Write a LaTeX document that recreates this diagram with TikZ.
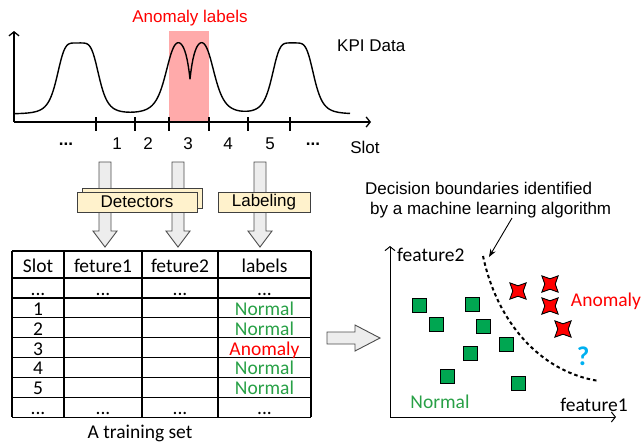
\documentclass[tikz,border=0pt]{standalone}
\usepackage{fontspec}
\setmainfont{Liberation Sans}
\newfontfamily\calibri{Carlito}
\usepackage{tikz}
\usetikzlibrary{arrows.meta,shapes.geometric}
\definecolor{pinkband}{RGB}{255,170,170}
\definecolor{creambox}{RGB}{255,242,204}
\definecolor{normalgreen}{RGB}{40,160,70}
\definecolor{squaregreen}{RGB}{0,166,81}
\definecolor{anomalyred}{RGB}{255,0,0}
\definecolor{qblue}{RGB}{0,176,240}
\newcommand\threedots{...}

\tikzset{
  txt/.style={font=\fontsize{17}{20}\selectfont, inner sep=0pt},
  cal/.style={font=\calibri\fontsize{19.5}{23}\selectfont, inner sep=0pt},
  cell/.style={cal, anchor=base},
  axisline/.style={line width=1.3pt, -{Straight Barb[length=4pt,width=10pt]}},
  garrow/.style={draw=black!70, fill=black!7, line width=0.9pt},
  toolbox/.style={draw=black!75, fill=creambox, line width=0.9pt},
  tabline/.style={line width=1.2pt},
  normsq/.style={draw, fill=squaregreen, line width=0.9pt, minimum size=14pt, inner sep=0pt},
  anomstar/.style={star, star points=4, star point ratio=2.2, shape border rotate=45,
    draw, fill=anomalyred, line width=0.9pt, minimum size=23pt, inner sep=0pt}
}

\begin{document}
\begin{tikzpicture}[x=1pt,y=-1pt,
  declare function={pk(\x,\c,\w)=1/(1+min(abs((\x-\c)/\w),6)^5);}]
\useasboundingbox (0,0) rectangle (644,445);

% KPI series
\fill[pinkband] (169,31) rectangle (209,122);
\draw[axisline] (14,122) -- (14,31);
\draw[axisline] (14,122) -- (371,122);
\foreach \t in {96,135,169,209,248,290}
  \draw[line width=1.2pt] (\t,117) -- (\t,131);
\draw[line width=1.4pt, line join=round]
  plot[domain=14:350, samples=337]
  (\x,{114-71*pk(\x,78,21.5)-76*pk(\x,190,25)+41*exp(-min(abs(\x-190)/4.5,20))-71*pk(\x,293,21.5)});
\node[txt, text=anomalyred] (anolab) at (190,18) {Anomaly labels};
\node[txt, anchor=west] (kpi) at (337,46) {KPI Data};
\node[txt] (tdots1) at (66,144) {\textbf{...}};
\node[txt] (t1) at (117,144) {1};
\node[txt] (t2) at (148,144) {2};
\node[txt] (t3) at (188,144) {3};
\node[txt] (t4) at (228,144) {4};
\node[txt] (t5) at (270,144) {5};
\node[txt] (tdots2) at (313,144) {\textbf{...}};
\node[txt] (slotax) at (365,147) {Slot};

% block arrows down
\foreach \c in {105,178,260}
  \draw[garrow] (\c-6,162) -- (\c+6,162) -- (\c+6,231) -- (\c+12,231) -- (\c,247)
    -- (\c-12,231) -- (\c-6,231) -- cycle;
\draw[toolbox] (82,188) rectangle (202,208);
\node[toolbox, txt, minimum width=120pt, minimum height=20pt] (detect) at (137,202) {Detectors};
\node[toolbox, txt, minimum width=92pt, minimum height=20pt] (labeling) at (264,202) {Labeling};

% training set table
\foreach \y in {251,278,297.9,317.75,337.6,357.5,377.4,397.25,417.1}
  \draw[tabline] (12,\y) -- (311,\y);
\foreach \x in {12,64,142,218,311}
  \draw[tabline] (\x,251) -- (\x,417.1);
\node[cell] (hslot) at (38,272) {Slot};
\node[cell] (hf1) at (103,272) {feture1};
\node[cell] (hf2) at (180,272) {feture2};
\node[cell] (hlab) at (264.5,272) {labels};
\foreach \sl/\lb/\cl [count=\i from 0] in {\threedots/\threedots/black,1/Normal/normalgreen,2/Normal/normalgreen,3/Anomaly/anomalyred,4/Normal/normalgreen,5/Normal/normalgreen,\threedots/\threedots/black}
{
  \pgfmathsetmacro\yb{278+19.875*(\i+1)-2.5}
  \node[cell] (slot\i) at (38,\yb) {\sl};
  \node[cell, text=\cl] (lab\i) at (264.5,\yb) {\lb};
}
\node[cell] (fa0) at (103,295.4) {\threedots};
\node[cell] (fb0) at (180,295.4) {\threedots};
\node[cell] (fa6) at (103,414.6) {\threedots};
\node[cell] (fb6) at (180,414.6) {\threedots};
\node[cal] (trainset) at (140,433) {A training set};

% arrow to the classifier
\draw[garrow] (327,332) -- (355,332) -- (355,325) -- (380,338) -- (355,351)
  -- (355,344) -- (327,344) -- cycle;

% feature space
\draw[axisline, line width=1pt] (390,417) -- (390,246);
\draw[axisline, line width=1pt] (390,417) -- (616,417);
\node[cal, anchor=west] (feat2) at (397,255) {feature2};
\node[cal] (feat1) at (594,405) {feature1};
\node[cal, text=normalgreen] (normtxt) at (440,402) {Normal};
\node[cal, text=anomalyred] (anomtxt) at (606,301) {Anomaly};
\node[inner sep=0pt, text=qblue, font=\calibri\bfseries\fontsize{27}{30}\selectfont] (qmark) at (583,356) {?};
\foreach \px/\py [count=\k] in {419/305,436/324,472/304,483/326,506/344,470/353,447/376,518/383}
  \node[normsq] (sq\k) at (\px,\py) {};
\foreach \px/\py [count=\k] in {518/291,550/284,550/306,563/329}
  \node[anomstar] (st\k) at (\px,\py) {};
\coordinate (bndtop) at (483,256);
\coordinate (bndend) at (599,381);
\draw[line width=2pt, dash pattern=on 3.5pt off 3pt] (bndtop) .. controls (497,322) and (540,372) .. (bndend);
\node[txt, align=left, anchor=north west] (dbtext) at (365,182)
  {Decision boundaries identified\\\hspace*{5pt}by a machine learning algorithm};
\coordinate (dbfrom) at (512,218);
\coordinate (dbto) at (489,257);
\draw[line width=0.9pt, -{Stealth[length=8pt,width=6pt]}] (dbfrom) -- (dbto);
\end{tikzpicture}
\end{document}
